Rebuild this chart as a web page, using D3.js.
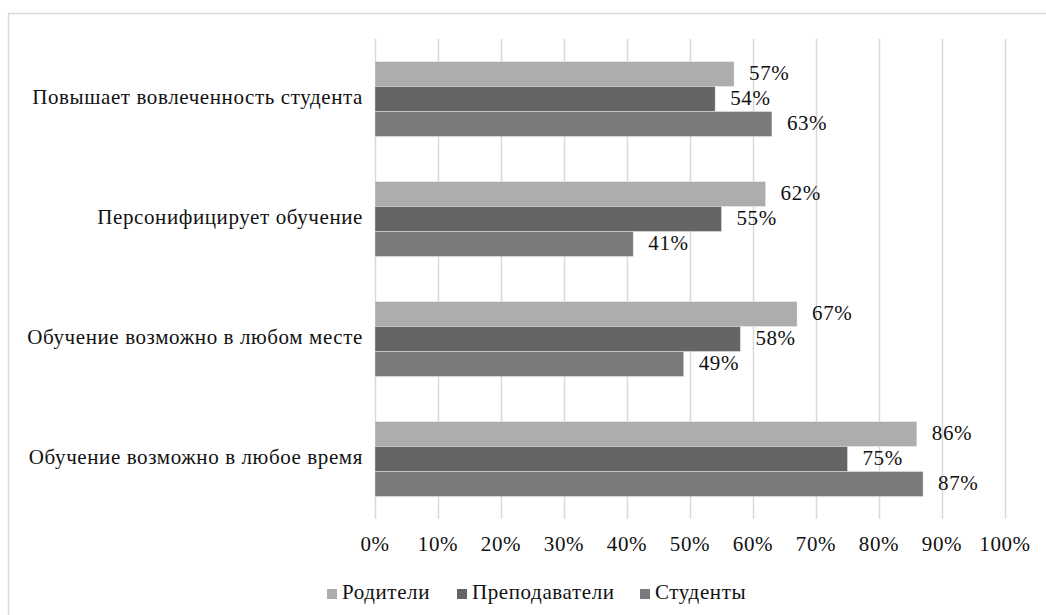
<!DOCTYPE html>
<html>
<head>
<meta charset="utf-8">
<script src="https://cdn.jsdelivr.net/npm/d3@7"></script>
<style>
  body { margin: 0; background: #fff; }
</style>
</head>
<body>
<div id="chart"></div>
<script>
const categories = [
  "Повышает вовлеченность студента",
  "Персонифицирует обучение",
  "Обучение возможно в любом месте",
  "Обучение возможно в любое время"
];
const seriesNames = ["Родители", "Преподаватели", "Студенты"];
const parents = [57, 62, 67, 86];
const teachers = [54, 55, 58, 75];
const students = [63, 41, 49, 87];
const ticks = [0, 10, 20, 30, 40, 50, 60, 70, 80, 90, 100];
const colors = ["#adadad", "#656565", "#7a7a7a"];

const width = 1046;
const height = 615;
const margin = { top: 39, right: 41, bottom: 96, left: 375 };
const FONT = "'Liberation Serif', 'Times New Roman', serif";

const series = [parents, teachers, students];
const rows = categories.map((c, i) => ({
  category: c,
  values: seriesNames.map((s, k) => ({ name: s, value: series[k][i] }))
}));

const svg = d3.select("#chart").append("svg")
  .attr("width", width)
  .attr("height", height)
  .style("font-family", FONT)
  .style("font-size", "21px")
  .style("letter-spacing", "0.6px");

// outer frame
svg.append("rect")
  .attr("x", 8.5).attr("y", 13.5)
  .attr("width", 1100).attr("height", 700)
  .attr("fill", "none")
  .attr("stroke", "#d9d9d9")
  .attr("stroke-width", 1.5);

const x = d3.scaleLinear()
  .domain([0, 100])
  .range([margin.left, width - margin.right]);

const y = d3.scaleBand()
  .domain(categories)
  .range([margin.top, height - margin.bottom])
  .paddingInner(0.375)
  .paddingOuter(0.1875);

const ySub = d3.scaleBand()
  .domain(seriesNames)
  .range([0, y.bandwidth()]);

// gridlines
svg.append("g")
  .selectAll("line")
  .data(ticks)
  .join("line")
  .attr("x1", (d) => x(d) + 0.5)
  .attr("x2", (d) => x(d) + 0.5)
  .attr("y1", margin.top)
  .attr("y2", height - margin.bottom)
  .attr("stroke", "#d9d9d9")
  .attr("stroke-width", 1.5);

// tick labels
svg.append("g")
  .selectAll("text")
  .data(ticks)
  .join("text")
  .attr("x", (d) => x(d))
  .attr("y", 546)
  .attr("text-anchor", "middle")
  .attr("dominant-baseline", "middle")
  .attr("fill", "#111")
  .text((d) => d + "%");

// category labels
svg.append("g")
  .selectAll("text")
  .data(categories)
  .join("text")
  .attr("x", 363)
  .attr("y", (d) => y(d) + y.bandwidth() / 2)
  .attr("text-anchor", "end")
  .attr("dominant-baseline", "middle")
  .attr("fill", "#111")
  .text((d) => d);

const group = svg.append("g")
  .selectAll("g")
  .data(rows)
  .join("g")
  .attr("transform", (d) => `translate(0,${y(d.category)})`);

group.selectAll("rect")
  .data((d) => d.values)
  .join("rect")
  .attr("x", x(0))
  .attr("y", (d) => ySub(d.name))
  .attr("width", (d) => x(d.value) - x(0))
  .attr("height", ySub.bandwidth())
  .attr("fill", (d, i) => colors[i])
  .attr("stroke", "#fff")
  .attr("stroke-opacity", 0.35)
  .attr("stroke-width", 1);

group.selectAll("text")
  .data((d) => d.values)
  .join("text")
  .attr("x", (d) => x(d.value) + 15)
  .attr("y", (d) => ySub(d.name) + ySub.bandwidth() / 2 + 1)
  .attr("dominant-baseline", "middle")
  .attr("fill", "#111")
  .text((d) => d.value + "%");

// legend
const legendPos = [327, 457, 640];
const legend = svg.append("g")
  .selectAll("g")
  .data(seriesNames)
  .join("g")
  .attr("transform", (d, i) => `translate(${legendPos[i]},594)`);

legend.append("rect")
  .attr("x", 0)
  .attr("y", -5)
  .attr("width", 10)
  .attr("height", 10)
  .attr("fill", (d, i) => colors[i]);

legend.append("text")
  .attr("x", 15)
  .attr("y", 0)
  .attr("dominant-baseline", "middle")
  .attr("fill", "#111")
  .text((d) => d);
</script>
</body>
</html>
